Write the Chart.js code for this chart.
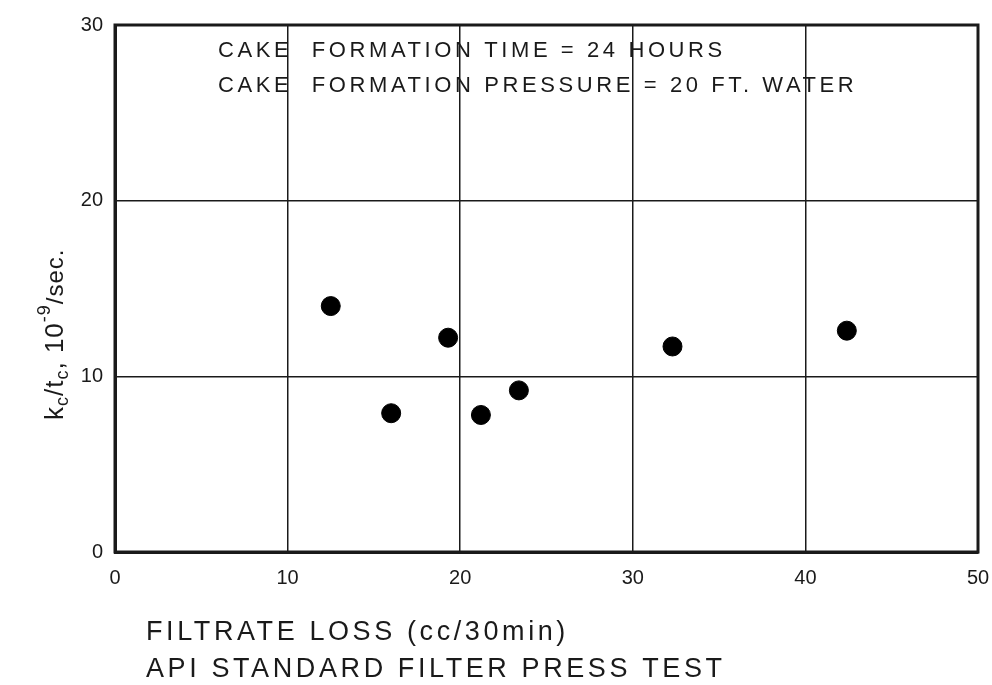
<!DOCTYPE html>
<html>
<head>
<meta charset="utf-8">
<script src="https://cdn.jsdelivr.net/npm/chart.js@4"></script>
<style>
  html, body { margin: 0; padding: 0; background: #fff; }
  #wrap { width: 992px; height: 685px; }
</style>
</head>
<body>
<div id="wrap"><canvas id="chart" width="992" height="685"></canvas></div>
<script>
// filtrate loss (cc/30min) vs kc/tc (10^-9/sec)
const filtrateLoss = [12.5, 16.0, 19.3, 21.2, 23.4, 32.3, 42.4];
const kcOverTc = [14.0, 7.9, 12.2, 7.8, 9.2, 11.7, 12.6];
const xTicks = [0, 10, 20, 30, 40, 50];
const yTicks = [0, 10, 20, 30];
const noteLines = ['CAKE  FORMATION TIME = 24 HOURS', 'CAKE  FORMATION PRESSURE = 20 FT. WATER'];
const xTitleLines = ['FILTRATE LOSS (cc/30min)', 'API STANDARD FILTER PRESS TEST'];

const ink = '#1a1a1a';
const font = '"Liberation Sans", Arial, sans-serif';

// draws the notes, the axis titles and the y title with subscripts
const labelsPlugin = {
    id: 'labels',
    afterDraw(chart) {
        const ctx = chart.ctx;
        ctx.save();
        ctx.fillStyle = ink;
        ctx.textBaseline = 'middle';
        ctx.textAlign = 'left';
        ctx.font = '22px ' + font;
        ctx.letterSpacing = '3.6px';
        ctx.fillText(noteLines[0], 218, 51);
        ctx.fillText(noteLines[1], 218, 86);

        ctx.font = '27px ' + font;
        ctx.letterSpacing = '3.6px';
        ctx.fillText(xTitleLines[0], 146, 633);
        ctx.fillText(xTitleLines[1], 146, 670);

        // y title: k_c/t_c, 10^-9/sec.
        ctx.letterSpacing = '1px';
        ctx.translate(56, 420);
        ctx.rotate(-Math.PI / 2);
        const parts = [
            ['k', 26, 0], ['c', 18, 7], ['/', 26, 0], ['t', 26, 0], ['c', 18, 7],
            [', 10', 26, 0], ['-9', 18, -11], ['/sec.', 24, 0]
        ];
        let x = 0;
        parts.forEach(p => {
            ctx.font = p[1] + 'px ' + font;
            ctx.fillText(p[0], x, p[2]);
            x += ctx.measureText(p[0]).width;
        });
        ctx.restore();
    }
};

new Chart(document.getElementById('chart'), {
    type: 'scatter',
    data: {
        datasets: [{
            data: filtrateLoss.map((v, i) => ({ x: v, y: kcOverTc[i] })),
            backgroundColor: '#000',
            borderColor: '#000',
            pointRadius: 9.5,
            pointHoverRadius: 9.5
        }]
    },
    options: {
        responsive: false,
        animation: false,
        layout: { padding: { top: 25, right: 14, left: 0, bottom: 0 } },
        plugins: {
            legend: { display: false },
            tooltip: { enabled: false }
        },
        scales: {
            x: {
                type: 'linear',
                min: 0,
                max: 50,
                afterBuildTicks: s => { s.ticks = xTicks.map(v => ({ value: v })); },
                afterFit: s => { s.height = 133; s.paddingLeft = 0; s.paddingRight = 0; },
                grid: { color: ink, lineWidth: 1.5, drawTicks: false },
                border: { color: ink, width: 3 },
                ticks: { color: ink, padding: 14, font: { family: font, size: 20 } }
            },
            y: {
                type: 'linear',
                min: 0,
                max: 30,
                afterBuildTicks: s => { s.ticks = yTicks.map(v => ({ value: v })); },
                afterFit: s => { s.width = 115; s.paddingTop = 0; s.paddingBottom = 0; },
                grid: { color: ink, lineWidth: 1.5, drawTicks: false },
                border: { color: ink, width: 3 },
                ticks: { color: ink, padding: 12, font: { family: font, size: 20 } }
            }
        }
    },
    plugins: [labelsPlugin, {
        id: 'frame',
        afterDatasetsDraw(chart) {
            const a = chart.chartArea;
            const ctx = chart.ctx;
            ctx.save();
            ctx.strokeStyle = ink;
            ctx.lineWidth = 3;
            ctx.strokeRect(a.left, a.top, a.right - a.left, a.bottom - a.top);
            ctx.restore();
        }
    }]
});
</script>
</body>
</html>
